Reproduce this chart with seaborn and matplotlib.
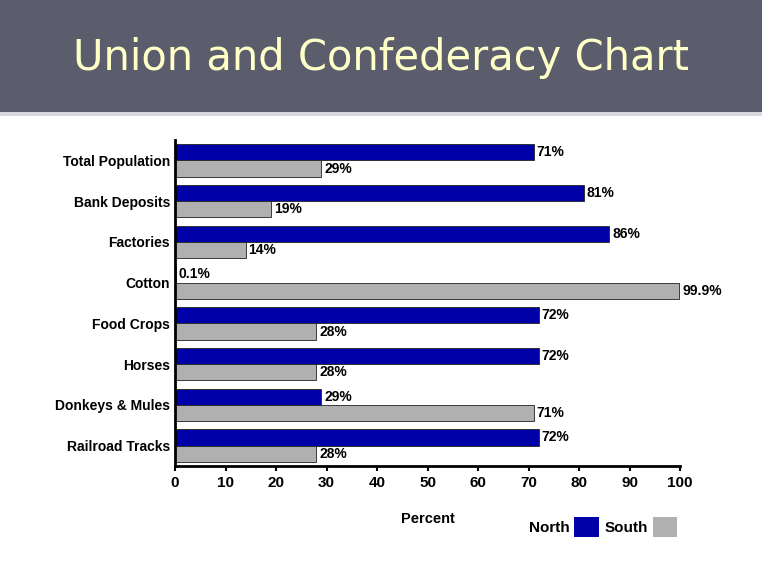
import matplotlib
matplotlib.use("Agg")
import matplotlib.pyplot as plt
import seaborn as sns
import pandas as pd
from matplotlib.patches import Rectangle

categories = ["Total Population", "Bank Deposits", "Factories", "Cotton",
              "Food Crops", "Horses", "Donkeys & Mules", "Railroad Tracks"]
north = [71, 81, 86, 0.1, 72, 72, 29, 72]
south = [29, 19, 14, 99.9, 28, 28, 71, 28]
north_labels = ["71%", "81%", "86%", "0.1%", "72%", "72%", "29%", "72%"]
south_labels = ["29%", "19%", "14%", "99.9%", "28%", "28%", "71%", "28%"]

df = pd.DataFrame({
    "Category": categories * 2,
    "Value": north + south,
    "Side": ["North"] * len(categories) + ["South"] * len(categories),
})

plt.rcParams["font.family"] = "Liberation Sans"
fig = plt.figure(figsize=(7.62, 5.63), dpi=100)
fig.patch.set_facecolor("white")

# header banner
fig.add_artist(Rectangle((0, 1 - 112/563), 1, 112/563, transform=fig.transFigure,
                         facecolor="#5b5c6c", edgecolor="none"))
fig.add_artist(Rectangle((0, 1 - 116/563), 1, 4/563, transform=fig.transFigure,
                         facecolor="#d8d8de", edgecolor="none"))
fig.text(0.5, 1 - 58/563, "Union and Confederacy Chart", ha="center", va="center",
         fontsize=30, color="#ffffc8", family="DejaVu Sans")

ax = fig.add_axes([175/762, 1 - 466/563, 505/762, 326/563])
sns.barplot(data=df, y="Category", x="Value", hue="Side", orient="h",
            palette={"North": "#0000a8", "South": "#b0b0b0"}, saturation=1,
            width=0.8, gap=0, edgecolor="#222222", linewidth=0.6, ax=ax,
            legend=False)

for cont, labels in zip(ax.containers, [north_labels, south_labels]):
    ax.bar_label(cont, labels=labels, padding=2, fontsize=10, fontweight="bold")

ax.set_xlim(0, 100)
ax.set_xticks(range(0, 101, 10))
ax.set_xlabel("Percent", fontsize=10.5, fontweight="bold", labelpad=16)
ax.set_ylabel("")
ax.spines["top"].set_visible(False)
ax.spines["right"].set_visible(False)
ax.spines["left"].set_linewidth(2)
ax.spines["bottom"].set_linewidth(2)
ax.tick_params(axis="y", length=0, labelsize=10)
ax.tick_params(axis="x", width=1.5, labelsize=11)
for t in ax.get_yticklabels() + ax.get_xticklabels():
    t.set_fontweight("bold")

handles = [Rectangle((0, 0), 1, 1, facecolor="#0000a8", edgecolor="none"),
           Rectangle((0, 0), 1, 1, facecolor="#b0b0b0", edgecolor="none")]
leg = fig.legend(handles, ["North", "South"], loc="center",
                 bbox_to_anchor=(603/762, 1 - 527/563), ncol=2, frameon=False,
                 markerfirst=False, handlelength=1.6, handleheight=1.6,
                 columnspacing=0.4, handletextpad=0.3,
                 prop={"weight": "bold", "size": 11})

fig.savefig("out.png", dpi=100)
